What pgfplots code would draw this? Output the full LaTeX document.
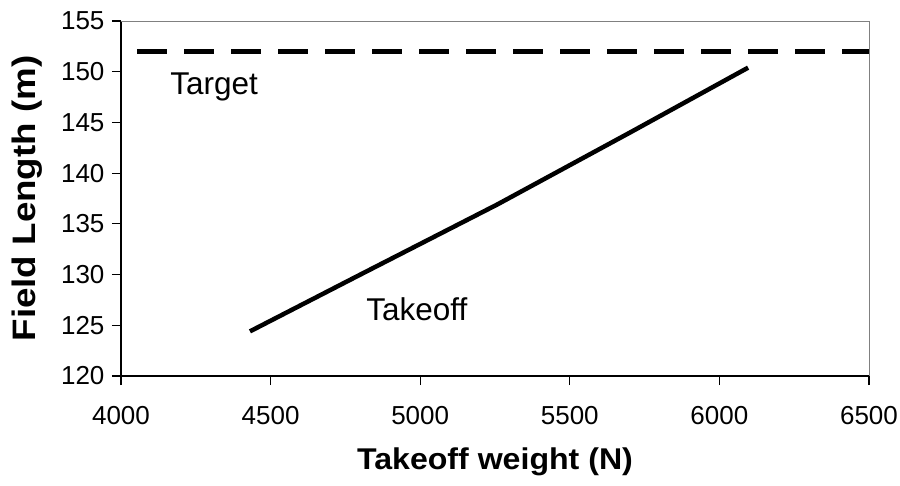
\documentclass[border=0pt]{standalone}
\usepackage{pgfplots}
\pgfplotsset{compat=1.18}
\usepackage{fontspec}
\setmainfont{Liberation Sans}
\newfontfamily\xlabfont{Liberation Sans}[FakeStretch=1.07]
\newfontfamily\ylabfont{Liberation Sans}[FakeStretch=1.13]
\usetikzlibrary{calc}
\begin{document}
\begin{tikzpicture}
\begin{axis}[
  name=ax,
  at={(0,0)}, anchor=south west,
  scale only axis,
  width=748pt, height=355pt,
  xmin=4000, xmax=6500, ymin=120, ymax=155,
  xtick={4000,4500,...,6500},
  ytick={120,125,...,155},
  axis x line*=bottom, axis y line*=left,
  axis line style={-, line width=1.5pt, black},
  tick style={black, line width=1.2pt},
  tick align=outside,
  major tick length=9pt,
  /pgf/number format/assume math mode=true,
  /pgf/number format/1000 sep={},
  tick label style={font=\fontsize{26}{30}\selectfont},
  xticklabel style={yshift=-18pt},
  yticklabel style={xshift=-4pt},
  xlabel={\textbf{Takeoff weight (N)}},
  ylabel={\textbf{Field Length (m)}},
  every axis x label/.style={at={(rel axis cs:0.5,0)}, anchor=center, yshift=-86pt, font=\xlabfont\fontsize{30}{34}\selectfont},
  every axis y label/.style={at={(rel axis cs:0,0.5)}, xshift=-94pt, rotate=90, anchor=center, font=\ylabfont\fontsize{32.5}{36}\selectfont},
  clip=false,
]
\draw[gray, line width=0.8pt] (rel axis cs:0,1) -- (rel axis cs:1,1) -- (rel axis cs:1,0);
\addplot[black, line width=4.2pt, dash pattern=on 30pt off 17pt] coordinates {(4055,152) (6500,152)};
\addplot[black, line width=4.5pt] coordinates {
(4431,124.4) (4800,130.0) (5257,136.9) (5701,144.0) (6096,150.4)
};
\node[font=\fontsize{31.5}{34}\selectfont] at (axis cs:4311,148.5) {Target};
\node[font=\fontsize{31.5}{34}\selectfont] at (axis cs:4989,126.6) {Takeoff};
\end{axis}
\pgfresetboundingbox
\path[use as bounding box] ($(ax.south west)+(-121pt,-109pt)$) rectangle ++(900pt,485pt);
\end{tikzpicture}
\end{document}
